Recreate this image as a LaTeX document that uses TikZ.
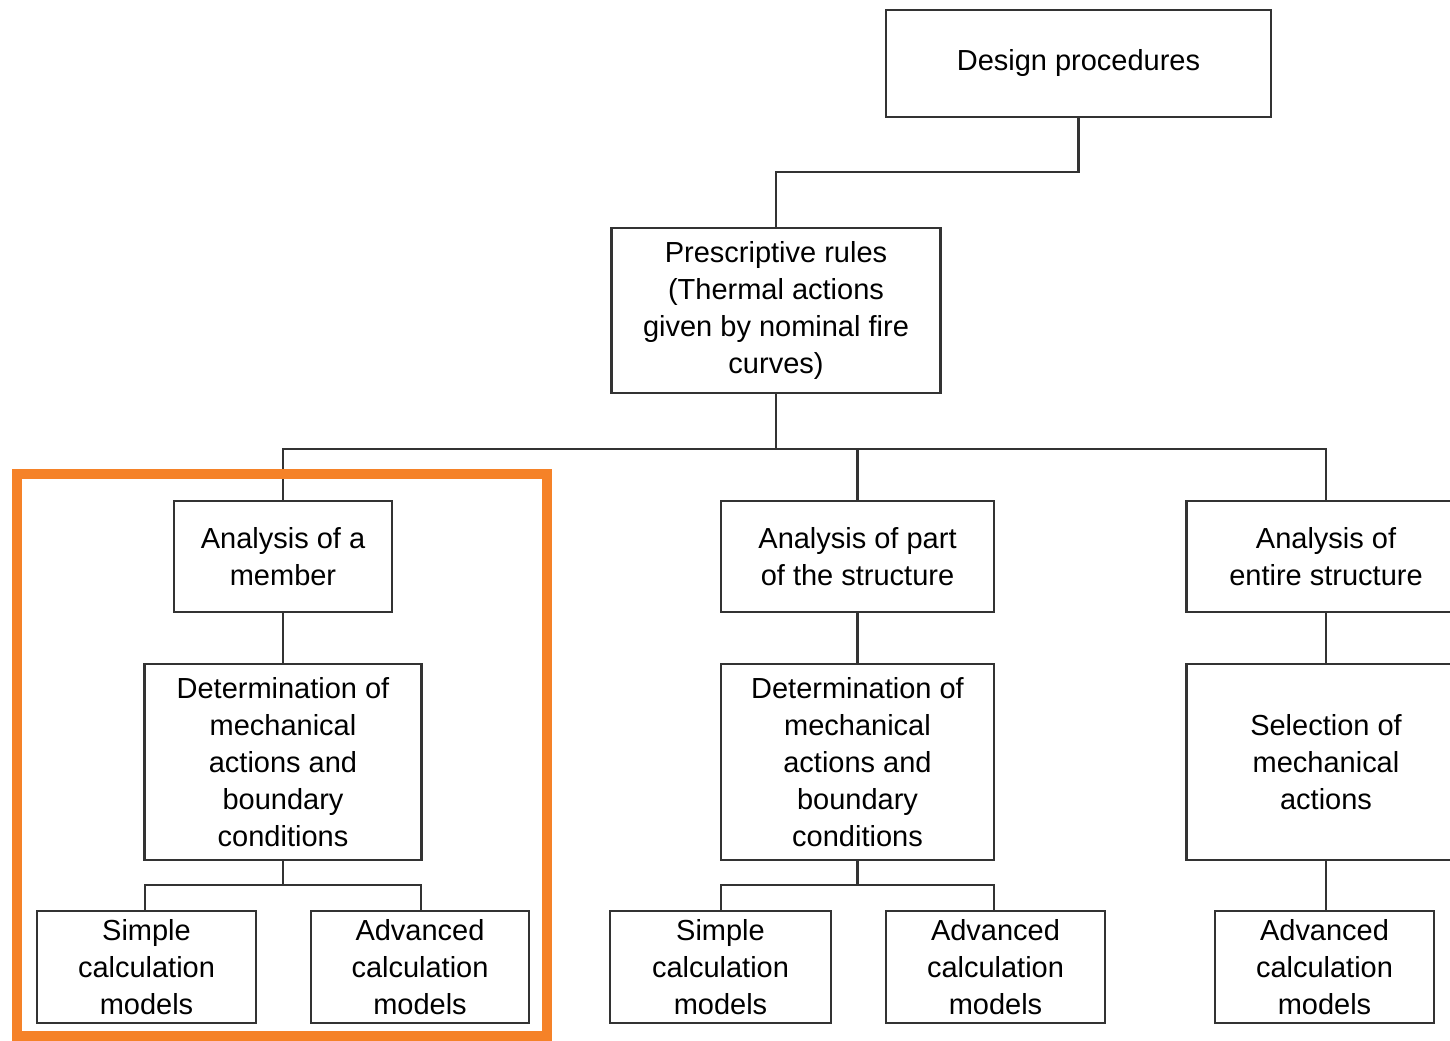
\documentclass[tikz,border=0pt]{standalone}
\usepackage{fontspec}
\setmainfont{Liberation Sans}
\definecolor{focuscol}{RGB}{245,130,40}
\begin{document}
\begin{tikzpicture}[x=0.02cm,y=-0.02cm,
  box/.style={draw=black!80,line width=1.6pt,fill=white,align=center,inner sep=0pt,
    font=\fontsize{16.5}{21}\selectfont},
  link/.style={draw=black!80,line width=1.6pt},
  focus/.style={draw=focuscol,line width=5.5pt}]
\useasboundingbox (0,0) rectangle (1450,1041);
\begin{scope}
\clip (0,0) rectangle (1450,1041);
\node[box,minimum width=385*0.02cm,minimum height=107*0.02cm] (dp) at (1078.5,63.5) {Design procedures};
\node[box,minimum width=329*0.02cm,minimum height=165*0.02cm] (pr) at (776,310.5) {Prescriptive rules\\(Thermal actions\\given by nominal fire\\curves)};
\node[box,minimum width=218*0.02cm,minimum height=111*0.02cm] (am) at (283,556.5) {Analysis of a\\member};
\node[box,minimum width=273*0.02cm,minimum height=111*0.02cm] (ap) at (857.5,556.5) {Analysis of part\\of the structure};
\node[box,minimum width=279*0.02cm,minimum height=111*0.02cm] (ae) at (1326,556.5) {Analysis of\\entire structure};
\node[box,minimum width=277*0.02cm,minimum height=196*0.02cm] (d1) at (283,762) {Determination of\\mechanical\\actions and\\boundary\\conditions};
\node[box,minimum width=273*0.02cm,minimum height=196*0.02cm] (d2) at (857.5,762) {Determination of\\mechanical\\actions and\\boundary\\conditions};
\node[box,minimum width=279*0.02cm,minimum height=196*0.02cm] (se) at (1326,762) {Selection of\\mechanical\\actions};
\node[box,minimum width=219*0.02cm,minimum height=112*0.02cm] (s1) at (146.5,967) {Simple\\calculation\\models};
\node[box,minimum width=218*0.02cm,minimum height=112*0.02cm] (a1) at (420,967) {Advanced\\calculation\\models};
\node[box,minimum width=221*0.02cm,minimum height=112*0.02cm] (s2) at (720.5,967) {Simple\\calculation\\models};
\node[box,minimum width=219*0.02cm,minimum height=112*0.02cm] (a2) at (995.5,967) {Advanced\\calculation\\models};
\node[box,minimum width=219*0.02cm,minimum height=112*0.02cm] (a3) at (1324.5,967) {Advanced\\calculation\\models};
\end{scope}
\draw[link] (dp.south) |- (776,172) -- (pr.north);
\draw[link] (pr.south) -- (776,449);
\draw[link] (am.north) -- (283,449) -- (1326,449) -- (ae.north);
\draw[link] (857.5,449) -- (ap.north);
\draw[link] (am.south) -- (d1.north);
\draw[link] (ap.south) -- (d2.north);
\draw[link] (ae.south) -- (se.north);
\draw[link] (d1.south) -- (283,885);
\draw[link] (s1.north -| 145,0) |- (421,885) -- (a1.north -| 421,0);
\draw[link] (d2.south) -- (857.5,885);
\draw[link] (s2.north -| 721,0) |- (994,885) -- (a2.north -| 994,0);
\draw[link] (se.south) -- (a3.north -| se.south);
\node[focus,draw,minimum width=530*0.02cm,minimum height=562*0.02cm,inner sep=0pt] (fb) at (282,755) {};
\end{tikzpicture}
\end{document}
